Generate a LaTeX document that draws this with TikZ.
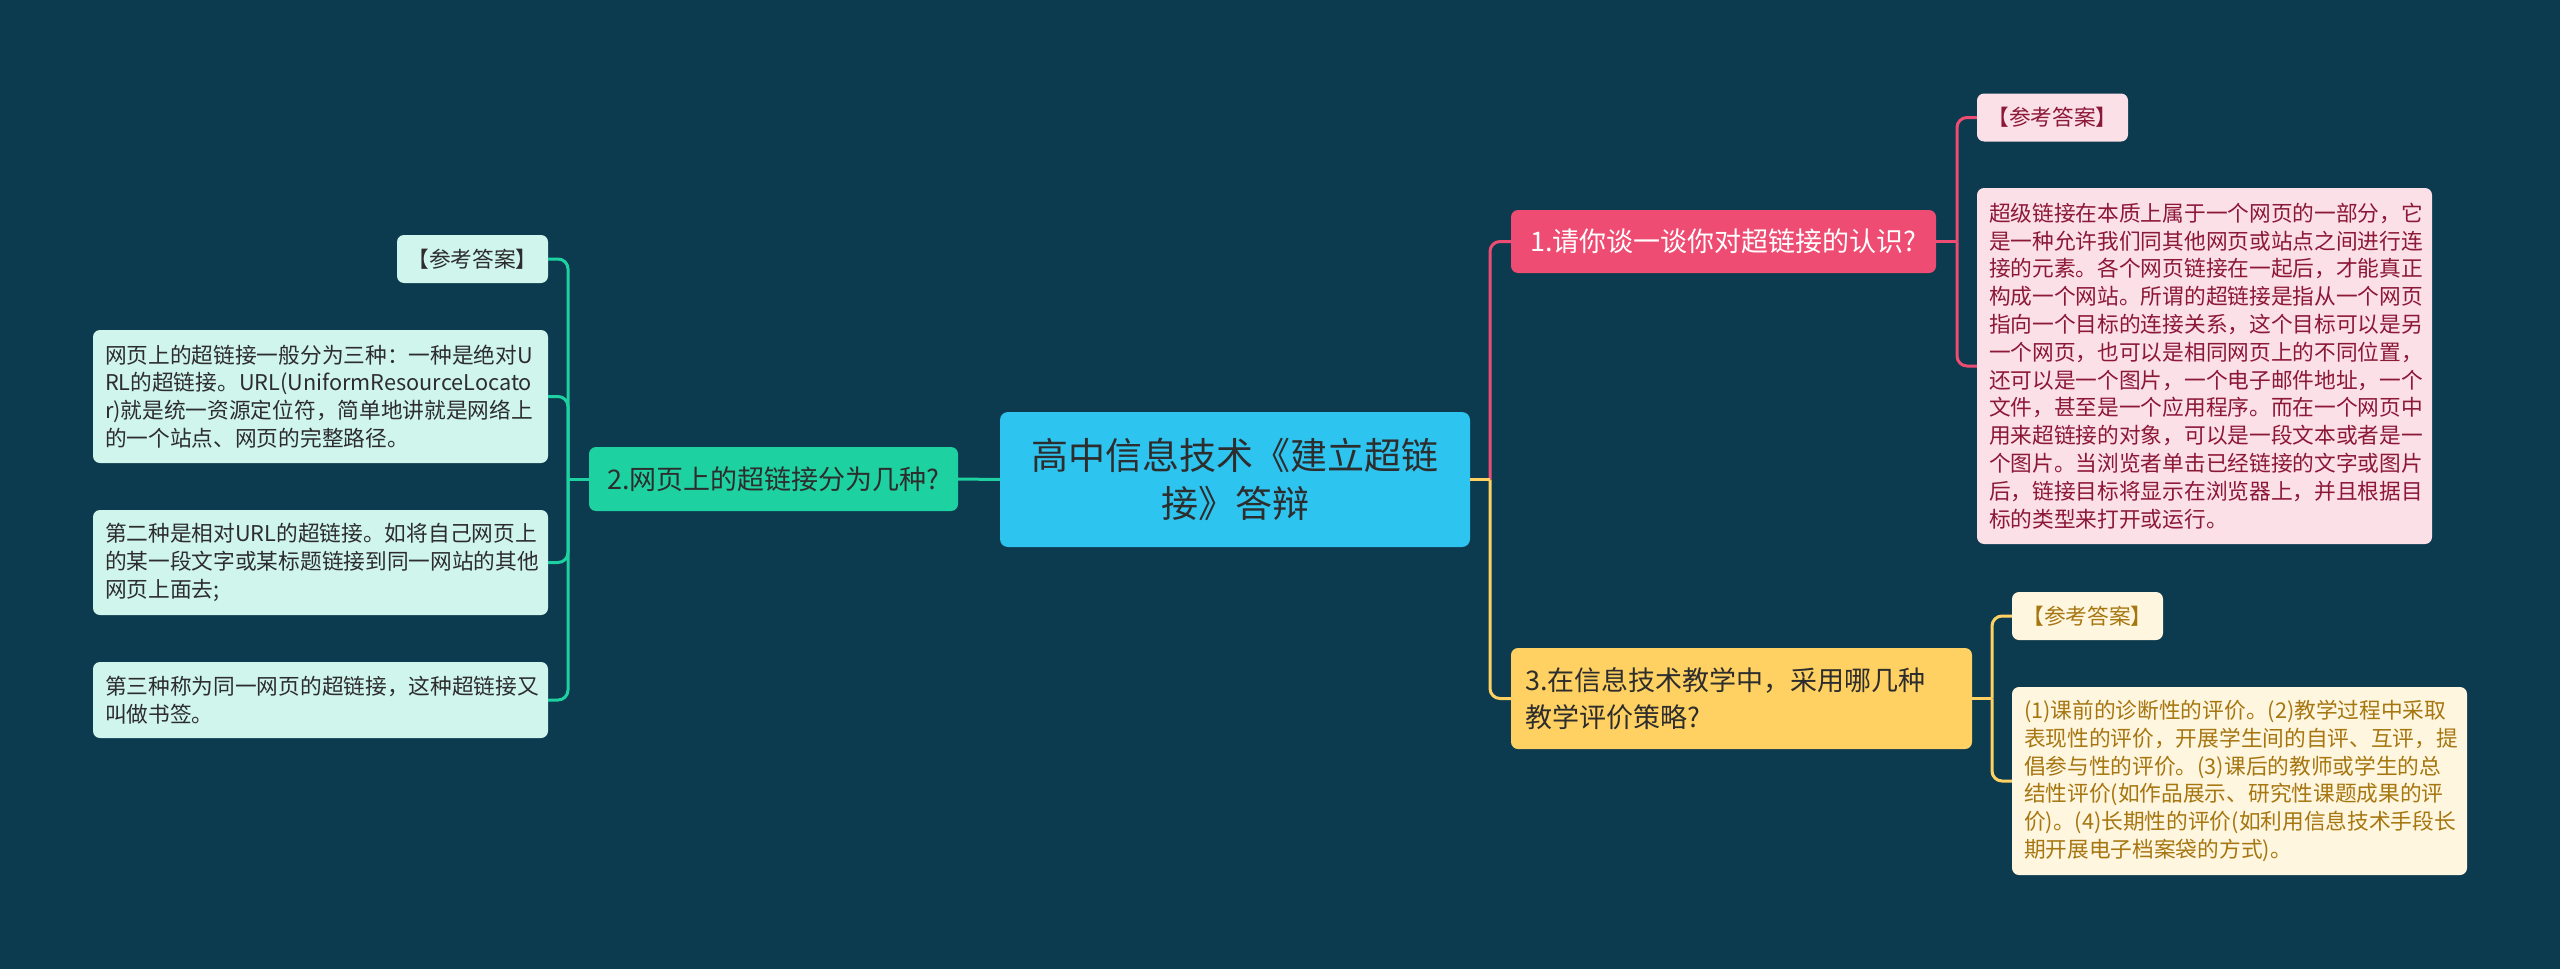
\documentclass[tikz,border=0pt]{standalone}
\usepackage{fontspec}
\setmainfont{Noto Sans CJK SC}
\definecolor{bgc}{RGB}{12,58,78}
\definecolor{centerc}{RGB}{46,196,240}
\definecolor{pinkm}{RGB}{238,76,114}
\definecolor{pinkl}{RGB}{252,224,231}
\definecolor{pinkt}{RGB}{140,24,56}
\definecolor{yelm}{RGB}{255,209,98}
\definecolor{yell}{RGB}{255,246,224}
\definecolor{yelt}{RGB}{166,118,16}
\definecolor{grnm}{RGB}{29,209,161}
\definecolor{grnl}{RGB}{207,245,237}
\definecolor{txtc}{RGB}{45,45,45}
\tikzset{
  mainnode/.style={fill=centerc, text=txtc, rounded corners=8pt, minimum width=470pt, minimum height=135pt, inner sep=0pt, align=center, font=\fontsize{37pt}{48pt}\selectfont},
  branch/.style={rounded corners=7pt, inner xsep=14pt, inner ysep=0pt, font=\fontsize{27pt}{37pt}\selectfont},
  lbl/.style={rounded corners=7pt, minimum width=151pt, minimum height=48pt, inner sep=0pt, align=center, font=\fontsize{21.7pt}{27.8pt}\selectfont},
  leaf/.style={rounded corners=7pt, inner xsep=12pt, inner ysep=0pt, text width=431pt, align=left, font=\fontsize{21.7pt}{27.8pt}\selectfont},
  conn/.style={line width=3pt, rounded corners=10pt},
}
\begin{document}
\begin{tikzpicture}[x=1pt,y=-1pt]
\fill[bgc] (0,0) rectangle (2560,969);
\useasboundingbox (0,0) rectangle (2560,969);

% center
\node[mainnode] (c) at (1235,479.5) {高中信息技术《建立超链\\接》答辩};

% branch 1 (pink)
\node[branch, fill=pinkm, text=white, minimum width=425pt, minimum height=63pt, align=center] (b1) at (1723.5,241.5) {1.请你谈一谈你对超链接的认识?};
\node[lbl, fill=pinkl, text=pinkt] (p1) at (2052.5,117.5) {【参考答案】};
\node[leaf, fill=pinkl, text=pinkt, minimum height=356pt] (p2) at (2204.5,366) {超级链接在本质上属于一个网页的一部分，它\\是一种允许我们同其他网页或站点之间进行连\\接的元素。各个网页链接在一起后，才能真正\\构成一个网站。所谓的超链接是指从一个网页\\指向一个目标的连接关系，这个目标可以是另\\一个网页，也可以是相同网页上的不同位置，\\还可以是一个图片，一个电子邮件地址，一个\\文件，甚至是一个应用程序。而在一个网页中\\用来超链接的对象，可以是一段文本或者是一\\个图片。当浏览者单击已经链接的文字或图片\\后，链接目标将显示在浏览器上，并且根据目\\标的类型来打开或运行。};

% branch 3 (yellow)
\node[branch, fill=yelm, text=txtc, text width=433pt, minimum height=101pt, align=left] (b3) at (1741.5,698.5) {3.在信息技术教学中，采用哪几种\\教学评价策略?};
\node[lbl, fill=yell, text=yelt] (y1) at (2087.5,616) {【参考答案】};
\node[leaf, fill=yell, text=yelt, minimum height=188pt] (y2) at (2239.5,781) {(1)课前的诊断性的评价。(2)教学过程中采取\\表现性的评价，开展学生间的自评、互评，提\\倡参与性的评价。(3)课后的教师或学生的总\\结性评价(如作品展示、研究性课题成果的评\\价)。(4)长期性的评价(如利用信息技术手段长\\期开展电子档案袋的方式)。};

% branch 2 (green)
\node[branch, fill=grnm, text=txtc, minimum width=369pt, minimum height=64pt, align=center] (b2) at (773.5,479) {2.网页上的超链接分为几种?};
\node[lbl, fill=grnl, text=txtc] (g0) at (472.5,259) {【参考答案】};
\node[leaf, fill=grnl, text=txtc, minimum height=133pt] (g1) at (320.5,396.5) {网页上的超链接一般分为三种：一种是绝对U\\RL的超链接。URL(UniformResourceLocato\\r)就是统一资源定位符，简单地讲就是网络上\\的一个站点、网页的完整路径。};
\node[leaf, fill=grnl, text=txtc, minimum height=105pt] (g2) at (320.5,562.5) {第二种是相对URL的超链接。如将自己网页上\\的某一段文字或某标题链接到同一网站的其他\\网页上面去;};
\node[leaf, fill=grnl, text=txtc, minimum height=76pt] (g3) at (320.5,700) {第三种称为同一网页的超链接，这种超链接又\\叫做书签。};

% junctions
\coordinate (j0) at (1490,479.5);
\coordinate (j1) at (1957,241.5);
\coordinate (j3) at (1992,698.5);
\coordinate (j2) at (568,479);

% connectors
\draw[conn, pinkm] (j0) |- (b1.west);
\draw[conn, yelm] (c.east) -- (j0);
\draw[conn, yelm] (j0) |- (b3.west);
\draw[conn, pinkm] (b1.east) -- (j1);
\draw[conn, pinkm] (j1) |- (p1.west);
\draw[conn, pinkm] (j1) |- (p2.west);
\draw[conn, yelm] (b3.east) -- (j3);
\draw[conn, yelm] (j3) |- (y1.west);
\draw[conn, yelm] (j3) |- (y2.west);
\draw[conn, grnm] (c.west) -- (b2.east);
\draw[conn, grnm] (b2.west) -- (j2);
\draw[conn, grnm] (j2) |- (g0.east);
\draw[conn, grnm] (j2) |- (g1.east);
\draw[conn, grnm] (j2) |- (g2.east);
\draw[conn, grnm] (j2) |- (g3.east);
\end{tikzpicture}
\end{document}
